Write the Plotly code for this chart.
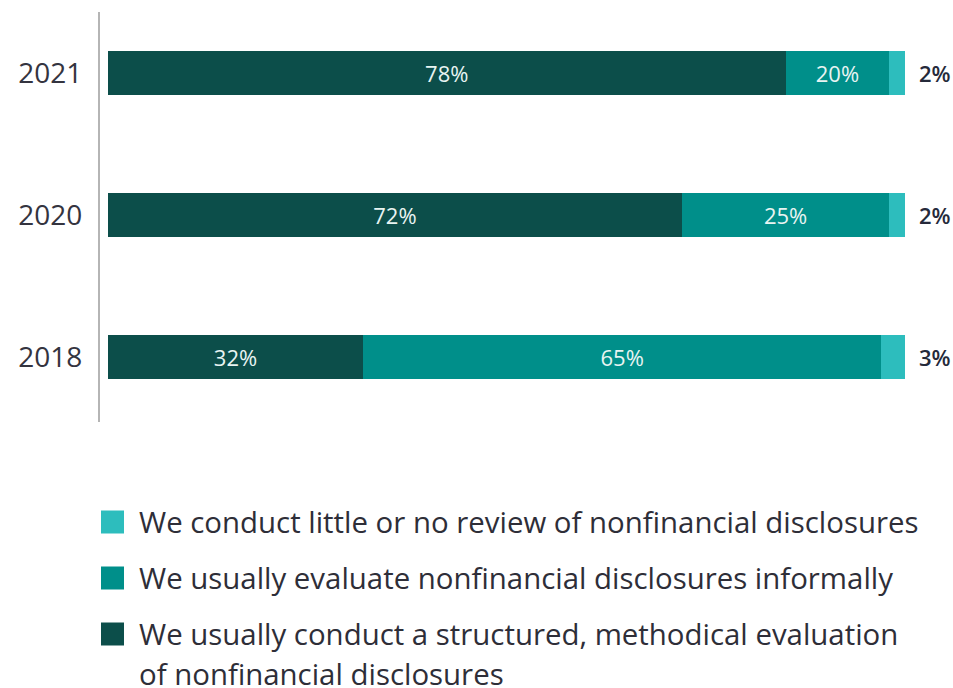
import plotly.graph_objects as go

# survey years (bottom to top)
years = ["2018", "2020", "2021"]

# segment lengths as drawn in the picture
structured_len = [32, 72, 85]
informal_len = [65, 26, 13]
little_len = [3, 2, 2]

# value labels printed on the chart
structured_txt = ["32%", "72%", "78%"]
informal_txt = ["65%", "25%", "20%"]
little_txt = ["3%", "2%", "2%"]

legend_labels = [
    "We conduct little or no review of nonfinancial disclosures",
    "We usually evaluate nonfinancial disclosures informally",
    "We usually conduct a structured, methodical evaluation\nof nonfinancial disclosures",
]
colors = ["#2dbdbd", "#008f8a", "#0c4e4a"]  # little, informal, structured

W, H = 953, 688
ML, MR, MT, MB = 100, 0, 12, 266

fig = go.Figure()
for vals, txt, col in [(structured_len, structured_txt, colors[2]),
                       (informal_len, informal_txt, colors[1]),
                       (little_len, ["", "", ""], colors[0])]:
    fig.add_trace(go.Bar(
        y=years, x=vals, orientation="h", marker_color=col,
        marker_line_width=0, width=0.31,
        text=txt, textposition="inside", insidetextanchor="middle",
        textfont=dict(family="Open Sans", size=22, color="#e8f4f2"),
        showlegend=False, hoverinfo="skip",
    ))

# outside labels for the small segment (category axis -> index positions)
for i, y in enumerate(years):
    total = structured_len[i] + informal_len[i] + little_len[i]
    fig.add_annotation(x=total, y=i, text=little_txt[i], showarrow=False,
                       xanchor="left", xshift=12,
                       font=dict(family="Open Sans", size=22, color="#252a3a", weight=600))

# hand-made legend, positions in pixels converted to paper coords
def px(xp):
    return (xp - ML) / (W - ML - MR)

def py(yp):
    return (H - MB - yp) / (H - MT - MB)

row_y = [522, 578, 634]
for lab, col, yc in zip(legend_labels, colors, row_y):
    fig.add_shape(type="rect", xref="paper", yref="paper",
                  x0=px(101), x1=px(124), y0=py(yc + 11.5), y1=py(yc - 11.5),
                  fillcolor=col, line_width=0)
    for k, line in enumerate(lab.split("\n")):
        fig.add_annotation(xref="paper", yref="paper", x=px(137), y=py(yc + 40 * k),
                           text=line, showarrow=False, xanchor="left", yanchor="middle",
                           font=dict(family="Open Sans", size=29.4, color="#2e2e38"))

fig.update_layout(
    width=W, height=H,
    margin=dict(l=ML, r=MR, t=MT, b=MB),
    barmode="stack", plot_bgcolor="white", paper_bgcolor="white",
    xaxis=dict(visible=False, range=[-1, 106], fixedrange=True),
    yaxis=dict(type="category", range=[-0.46, 2.43], showline=True,
               linecolor="#b5b5b5", linewidth=2, fixedrange=True,
               showgrid=False, zeroline=False, ticks="", ticklabelstandoff=10,
               tickfont=dict(family="Open Sans", size=28, color="#34343f")),
)

# drop the browser's default body margin so the figure fills the window
fig.write_html("out.html", config={"displayModeBar": False},
               post_script="document.body.style.margin='0';")
